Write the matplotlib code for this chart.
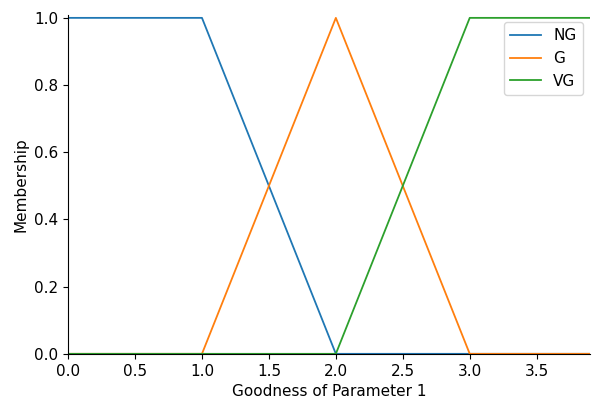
import matplotlib.pyplot as plt

# membership function breakpoints
ng_x = [0.0, 1.0, 2.0, 3.9]
ng_y = [1.0, 1.0, 0.0, 0.0]
g_x = [0.0, 1.0, 2.0, 3.0, 3.9]
g_y = [0.0, 0.0, 1.0, 0.0, 0.0]
vg_x = [0.0, 2.0, 3.0, 3.9]
vg_y = [0.0, 0.0, 1.0, 1.0]

plt.rcParams['font.size'] = 11

fig = plt.figure(figsize=(5.92, 4.03), dpi=100)
ax = fig.add_axes([0.115, 0.122, 0.882, 0.842])

ax.plot(ng_x, ng_y, linewidth=1.3, label='NG')
ax.plot(g_x, g_y, linewidth=1.3, label='G')
ax.plot(vg_x, vg_y, linewidth=1.3, label='VG')

ax.set_xlim(0, 3.9)
ax.set_ylim(0, 1.01)
ax.set_xlabel('Goodness of Parameter 1')
ax.set_ylabel('Membership')
ax.spines['top'].set_visible(False)
ax.spines['right'].set_visible(False)
ax.legend()

fig.savefig('out.png')
